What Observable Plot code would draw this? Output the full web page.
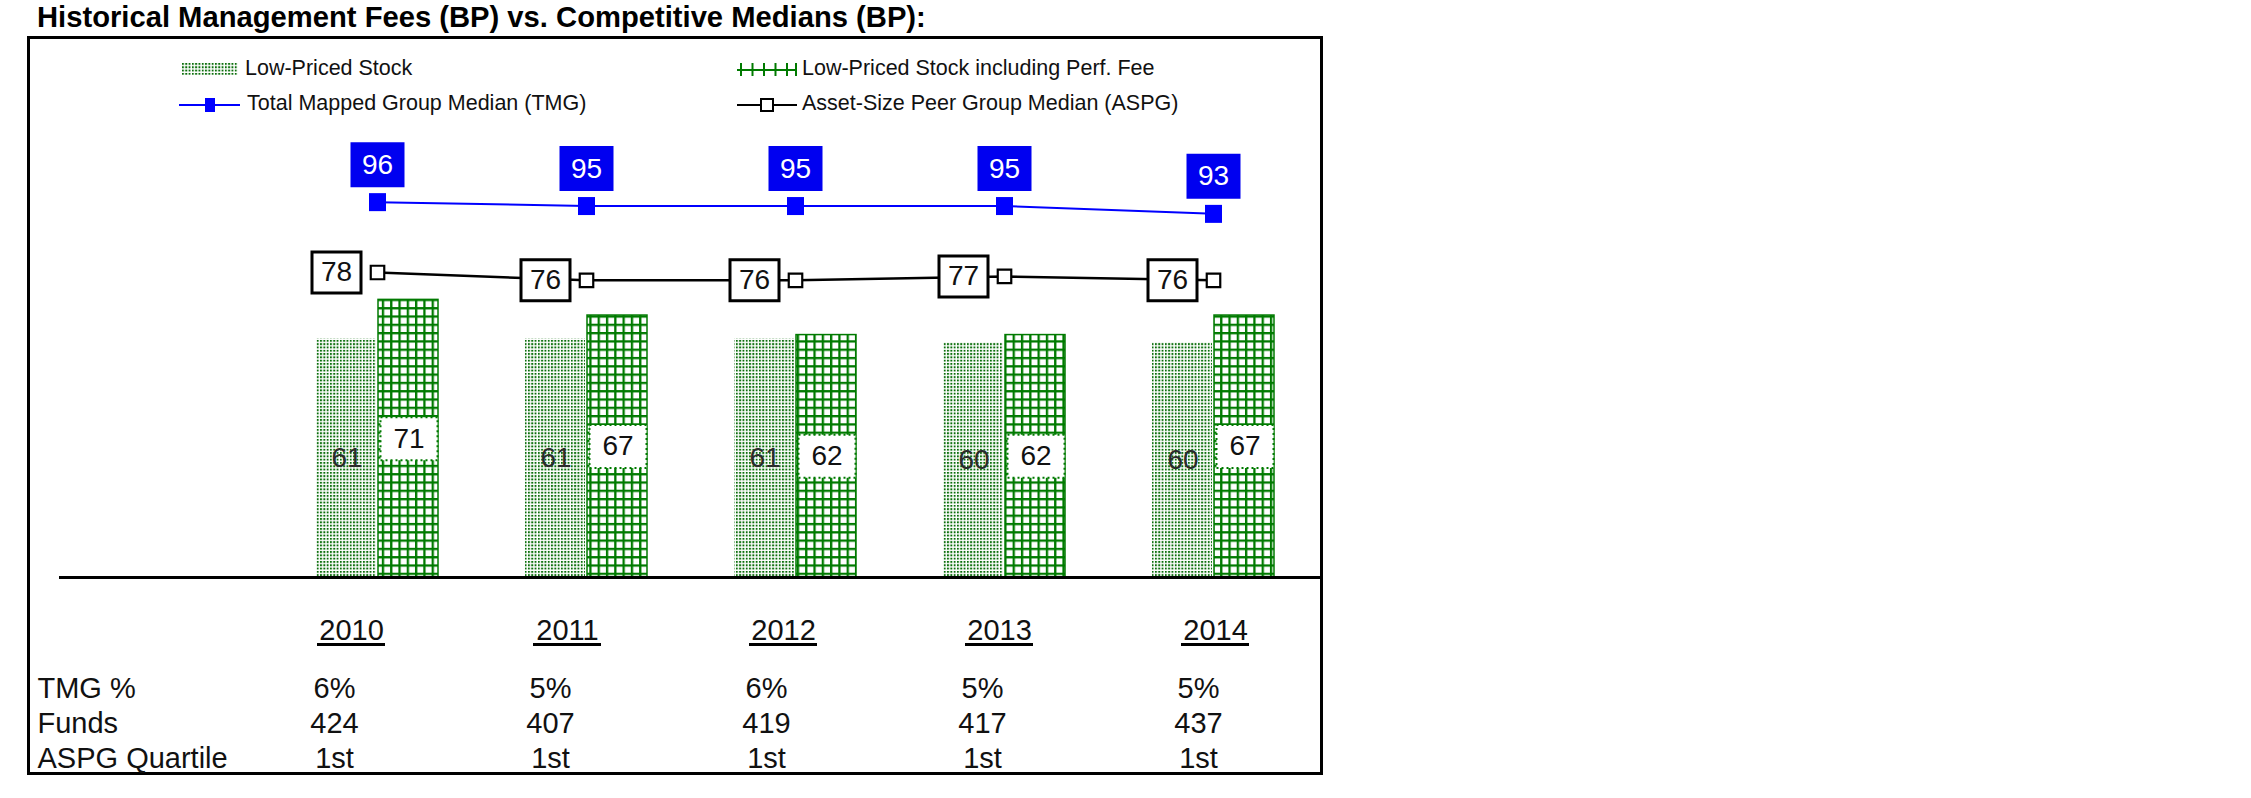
<!DOCTYPE html>
<html><head><meta charset="utf-8">
<script src="https://cdn.jsdelivr.net/npm/d3@7"></script>
<script src="https://cdn.jsdelivr.net/npm/@observablehq/plot@0.6"></script>
<style>
html,body{margin:0;padding:0;background:#fff;}
body{width:2251px;height:798px;position:relative;overflow:hidden;font-family:"Liberation Sans",Arial,sans-serif;}
.abs{position:absolute;white-space:nowrap;}
#title{left:37px;top:2.5px;font-size:29.2px;line-height:29px;font-weight:bold;color:#000;}
#frame{left:27px;top:36px;width:1296px;height:739px;border:3px solid #000;box-sizing:border-box;}
.leg{font-size:21.5px;line-height:21.5px;color:#111;}
#main{left:0;top:0;}
#table{left:0;top:590px;}
#main svg,#table svg{overflow:visible;max-width:none;}
</style></head><body>
<svg width="0" height="0" style="position:absolute;left:0;top:0">
  <defs>
    <pattern id="dots" patternUnits="userSpaceOnUse" width="3.3" height="3.3">
      <rect width="3.3" height="3.3" fill="#fff"/>
      <rect width="1.9" height="1.9" fill="#0a6e0a"/>
    </pattern>
    <pattern id="grid" patternUnits="userSpaceOnUse" width="8.3" height="8.3">
      <rect width="8.3" height="8.3" fill="#fff"/>
      <rect width="2.3" height="8.3" fill="#007a00"/>
      <rect width="8.3" height="2.3" fill="#007a00"/>
    </pattern>
  </defs>
</svg>
<div id="title" class="abs">Historical Management Fees (BP) vs. Competitive Medians (BP):</div>
<div id="frame" class="abs"></div>
<div id="main" class="abs"></div>
<div id="table" class="abs"></div>

<svg class="abs" style="left:182px;top:63px" width="56" height="12"><rect width="56" height="12" fill="url(#dots)"/></svg>
<div class="abs leg" style="left:245px;top:57.8px">Low-Priced Stock</div>
<svg class="abs" style="left:737px;top:62px" width="61" height="15">
  <line x1="0" x2="60" y1="8" y2="8" stroke="#007a00" stroke-width="2"/>
  <g stroke="#007a00" stroke-width="2">
    <line x1="4" x2="4" y1="1" y2="14"/><line x1="15.5" x2="15.5" y1="1" y2="14"/><line x1="27" x2="27" y1="1" y2="14"/>
    <line x1="38.5" x2="38.5" y1="1" y2="14"/><line x1="50" x2="50" y1="1" y2="14"/><line x1="59" x2="59" y1="1" y2="14"/>
  </g>
</svg>
<div class="abs leg" style="left:802px;top:57.8px">Low-Priced Stock including Perf. Fee</div>
<svg class="abs" style="left:179px;top:96px" width="62" height="18">
  <line x1="0" x2="61" y1="9" y2="9" stroke="#0000ff" stroke-width="2"/>
  <rect x="26" y="2" width="10" height="14" fill="#0000ff"/>
</svg>
<div class="abs leg" style="left:247px;top:92.8px">Total Mapped Group Median (TMG)</div>
<svg class="abs" style="left:737px;top:96px" width="62" height="18">
  <line x1="0" x2="60" y1="9" y2="9" stroke="#000" stroke-width="2"/>
  <rect x="24" y="3" width="12" height="12" fill="#fff" stroke="#000" stroke-width="2"/>
</svg>
<div class="abs leg" style="left:802px;top:92.8px">Asset-Size Peer Group Median (ASPG)</div>

<script>
// ---- data ----
const years = ["2010", "2011", "2012", "2013", "2014"];
const lowPriced = [61, 61, 61, 60, 60];
const lowPricedPerf = [71, 67, 62, 62, 67];
const tmgMedian = [96, 95, 95, 95, 93];
const aspgMedian = [78, 76, 76, 77, 76];
const tmgPct = ["6%", "5%", "6%", "5%", "5%"];
const funds = [424, 407, 419, 417, 437];
const aspgQuartile = ["1st", "1st", "1st", "1st", "1st"];
const rowLabels = ["TMG %", "Funds", "ASPG Quartile"];

const rows = years.map((year, i) => ({year, low: lowPriced[i], perf: lowPricedPerf[i], tmg: tmgMedian[i], aspg: aspgMedian[i]}));
const tableRows = years.map((year, i) => ({year, tmgPct: tmgPct[i], funds: funds[i], quartile: aspgQuartile[i]}));

const rectSymbol = (w, h) => ({draw(ctx) { ctx.rect(-w / 2, -h / 2, w, h); }});
const ink = "#007a00";
const font = "Liberation Sans, Arial, sans-serif";

const main = Plot.plot({
  width: 1330, height: 600,
  marginLeft: 59, marginRight: 8, marginTop: 0, marginBottom: 0,
  style: {background: "transparent", fontFamily: font, overflow: "visible"},
  x: {type: "band", domain: years, range: [314.5, 1275.5], paddingInner: 0.4184, paddingOuter: 0, axis: null},
  y: {domain: [0, 140], range: [577, 29.6], axis: null},
  marks: [
    Plot.barY(rows, {x: "year", y: "low", fill: "url(#dots)", insetRight: 62}),
    Plot.barY(rows, {x: "year", y: "perf", fill: "url(#grid)", stroke: ink, strokeWidth: 1.5, insetLeft: 62}),
    Plot.ruleY([0], {stroke: "#000", strokeWidth: 3}),
    Plot.text(rows, {x: "year", y: d => d.low / 2, text: "low", dx: -30.5, fontSize: 28, fill: "#2b2b2b"}),
    Plot.dot(rows, {x: "year", y: d => d.perf / 2, dx: 31.5, symbol: rectSymbol(57, 43), fill: "#fff", stroke: ink, strokeWidth: 2, strokeDasharray: "2,3"}),
    Plot.text(rows, {x: "year", y: d => d.perf / 2, text: "perf", dx: 31.5, fontSize: 28, fill: "#111"}),
    Plot.line(rows, {x: "year", y: "tmg", stroke: "#0000ff", strokeWidth: 2}),
    Plot.dot(rows, {x: "year", y: "tmg", symbol: rectSymbol(17, 18), fill: "#0000ff", stroke: "none"}),
    Plot.dot(rows, {x: "year", y: "tmg", dy: -37.5, symbol: rectSymbol(54, 45), fill: "#0000f0", stroke: "none"}),
    Plot.text(rows, {x: "year", y: "tmg", dy: -37.5, text: "tmg", fill: "#fff", fontSize: 28}),
    Plot.line(rows, {x: "year", y: "aspg", stroke: "#000", strokeWidth: 2.5}),
    Plot.dot(rows, {x: "year", y: "aspg", symbol: rectSymbol(13.5, 13.5), fill: "#fff", stroke: "#000", strokeWidth: 2.2}),
    Plot.dot(rows, {x: "year", y: "aspg", dx: -41, symbol: rectSymbol(49, 41), fill: "#fff", stroke: "#000", strokeWidth: 3}),
    Plot.text(rows, {x: "year", y: "aspg", dx: -41, text: "aspg", fontSize: 28, fill: "#111"})
  ]
});
document.getElementById("main").appendChild(main);

const rowKeys = ["Year", ...rowLabels];
const table = Plot.plot({
  width: 1330, height: 200,
  marginLeft: 37, marginRight: 0, marginTop: 0, marginBottom: 0,
  style: {background: "transparent", fontFamily: font, overflow: "visible"},
  x: {type: "band", domain: years, range: [299, 1232], paddingInner: 0.6855, paddingOuter: 0, axis: null},
  y: {type: "point", domain: rowKeys, range: [71.5, 178], padding: 0, axis: null},
  marks: [
    Plot.text(years, {x: d => d, y: () => "Year", text: d => d, dx: 17, dy: -22.5, lineAnchor: "bottom", fontSize: 29, fill: "#111"}),
    Plot.tickY(years, {x: d => d, y: () => "Year", dx: 17, dy: -18, stroke: "#000", strokeWidth: 3}),
    Plot.text(rowLabels, {frameAnchor: "left", y: d => d, text: d => d, textAnchor: "start", lineAnchor: "bottom", fontSize: 29, fill: "#111"}),
    Plot.text(tableRows, {x: "year", y: () => "TMG %", text: "tmgPct", lineAnchor: "bottom", fontSize: 29, fill: "#111"}),
    Plot.text(tableRows, {x: "year", y: () => "Funds", text: "funds", lineAnchor: "bottom", fontSize: 29, fill: "#111"}),
    Plot.text(tableRows, {x: "year", y: () => "ASPG Quartile", text: "quartile", lineAnchor: "bottom", fontSize: 29, fill: "#111"})
  ]
});
document.getElementById("table").appendChild(table);
</script>
</body></html>
